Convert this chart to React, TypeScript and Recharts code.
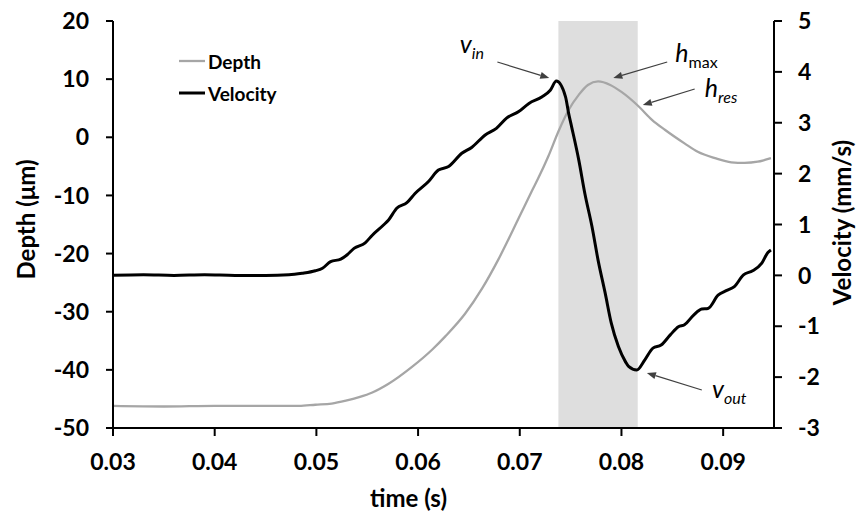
import React from 'react';
import {
  LineChart,
  Line,
  XAxis,
  YAxis,
  ReferenceArea,
  ReferenceLine,
  ReferenceDot,
  Legend,
  Label,
} from 'recharts';

const FONT = 'Lato, "Open Sans", sans-serif';

// Axis ticks
const TIME_TICKS = [0.03, 0.04, 0.05, 0.06, 0.07, 0.08, 0.09];
const DEPTH_TICKS = [-50, -40, -30, -20, -10, 0, 10, 20];
const VELOCITY_TICKS = [-3, -2, -1, 0, 1, 2, 3, 4, 5];

// Depth trace (µm) against time (s)
const depthTime = [
  0.03, 0.035, 0.04, 0.045, 0.0483, 0.0499, 0.0515, 0.0529, 0.0542, 0.0555,
  0.0571, 0.0594, 0.0614, 0.0627, 0.0646, 0.0663, 0.0679, 0.0699, 0.0712, 0.0718,
  0.0728, 0.0738, 0.0748, 0.0758, 0.0767, 0.0777, 0.0789, 0.08, 0.0817, 0.083,
  0.0843, 0.0862, 0.0875, 0.0892, 0.0908, 0.0921, 0.0934, 0.0941, 0.0947,
];
const depthValues = [
  -46.2, -46.3, -46.2, -46.2, -46.2, -46.0, -45.8, -45.3, -44.7, -43.9,
  -42.4, -39.5, -36.5, -34.2, -30.4, -26.0, -21.0, -13.9, -9.2, -7.1,
  -3.3, 1.0, 4.7, 7.3, 9.0, 9.6, 9.0, 7.8, 5.3, 3.0,
  1.25, -1.05, -2.5, -3.6, -4.3, -4.4, -4.2, -3.9, -3.6,
];

// Velocity trace (mm/s) against time (s)
const velocityTime = [
  0.03, 0.033, 0.036, 0.039, 0.042, 0.045, 0.0473, 0.0486, 0.0499, 0.0506,
  0.0514, 0.0524, 0.053, 0.0537, 0.0548, 0.0555, 0.0566, 0.0571, 0.0579, 0.0589,
  0.0597, 0.061, 0.062, 0.063, 0.0643, 0.0653, 0.0666, 0.0677, 0.0687, 0.0699,
  0.0709, 0.0722, 0.073, 0.0736, 0.0745, 0.0748, 0.0751, 0.0758, 0.0764, 0.0771,
  0.0777, 0.0784, 0.079, 0.0797, 0.0804, 0.0807, 0.0815, 0.0823, 0.0831, 0.0839,
  0.0848, 0.0856, 0.0862, 0.0871, 0.0879, 0.0885, 0.0895, 0.0903, 0.0911, 0.092,
  0.0929, 0.0938, 0.0944, 0.0947,
];
const velocityValues = [
  0.0, 0.01, 0.0, 0.01, 0.0, 0.0, 0.01, 0.04, 0.09, 0.14,
  0.27, 0.32, 0.4, 0.53, 0.64, 0.79, 0.99, 1.09, 1.32, 1.43,
  1.61, 1.84, 2.07, 2.14, 2.4, 2.52, 2.76, 2.89, 3.09, 3.22,
  3.38, 3.51, 3.64, 3.82, 3.51, 3.19, 2.92, 2.27, 1.61, 0.96,
  0.3, -0.35, -0.94, -1.4, -1.7, -1.79, -1.86, -1.66, -1.43, -1.37,
  -1.17, -1.01, -0.97, -0.78, -0.66, -0.65, -0.39, -0.3, -0.22, 0.01,
  0.09, 0.24, 0.45, 0.5,
];

// Shaded contact window (s)
const contactWindow = [0.0738, 0.0816];

const depthData = depthTime.map((t, i) => ({ t, depth: depthValues[i] }));
const velocityData = velocityTime.map((t, i) => ({ t, velocity: velocityValues[i] }));

// Callouts, placed in (time, depth) units
const callouts = [
  { main: 'v', sub: 'in', subItalic: true, text: [0.0641, 14.5], tail: [0.0678, 12.95], tip: [0.0729, 10.2] },
  { main: 'h', sub: 'max', subItalic: false, text: [0.0853, 12.95], tail: [0.0845, 12.95], tip: [0.0792, 10.2] },
  { main: 'h', sub: 'res', subItalic: true, text: [0.0882, 6.93], tail: [0.0872, 8.3], tip: [0.0821, 5.55] },
  { main: 'v', sub: 'out', subItalic: true, text: [0.0889, -44.84], tail: [0.0879, -43.47], tip: [0.0825, -40.54] },
];

const ArrowShape = (props: any) => {
  const { x1, y1, x2, y2 } = props;
  const dx = x2 - x1;
  const dy = y2 - y1;
  const len = Math.hypot(dx, dy) || 1;
  const ux = dx / len;
  const uy = dy / len;
  const hl = 9;
  const hw = 3.5;
  const bx = x2 - ux * hl;
  const by = y2 - uy * hl;
  return (
    <g>
      <line x1={x1} y1={y1} x2={bx} y2={by} stroke="#404040" strokeWidth={1.2} />
      <polygon
        points={`${x2},${y2} ${bx - uy * hw},${by + ux * hw} ${bx + uy * hw},${by - ux * hw}`}
        fill="#404040"
      />
    </g>
  );
};

const makeCalloutText = (main: string, sub: string, subItalic: boolean) => (p: any) => (
  <text x={p.cx} y={p.cy} fontFamily={FONT} fontSize={25} fontStyle="italic" fill="#000">
    <tspan>{main}</tspan>
    <tspan fontSize={16} dy={6} fontStyle={subItalic ? 'italic' : 'normal'}>
      {sub}
    </tspan>
  </text>
);

const renderLegend = (props: any) => {
  const items = props.payload || [];
  return (
    <div style={{ fontFamily: FONT, fontWeight: 700, fontSize: 19, color: '#000' }}>
      {items.map((it: any) => (
        <div key={it.value} style={{ display: 'flex', alignItems: 'center', height: 32 }}>
          <svg width={30} height={32}>
            <line
              x1={3}
              y1={16}
              x2={29}
              y2={16}
              stroke={it.color}
              strokeWidth={it.value === 'Velocity' ? 3 : 2.3}
            />
          </svg>
          <span style={{ marginLeft: 2 }}>{it.value}</span>
        </div>
      ))}
    </div>
  );
};

const titleStyle = { fontFamily: FONT, fontWeight: 700, fontSize: 24, fill: '#000' };

const LeftTitle = (props: any) => {
  const vb = props.viewBox || { x: 0, y: 21, width: 113, height: 407 };
  const cx = vb.x + 25;
  const cy = vb.y + vb.height / 2 - 5;
  return (
    <text
      x={cx}
      y={cy}
      transform={`rotate(-90, ${cx}, ${cy})`}
      textAnchor="middle"
      dominantBaseline="central"
      style={titleStyle}
    >
      Depth (μm)
    </text>
  );
};

const RightTitle = (props: any) => {
  const vb = props.viewBox || { x: 774, y: 21, width: 84, height: 407 };
  const cx = vb.x + 67;
  const cy = vb.y + vb.height / 2 - 2;
  return (
    <text
      x={cx}
      y={cy}
      transform={`rotate(-90, ${cx}, ${cy})`}
      textAnchor="middle"
      dominantBaseline="central"
      style={titleStyle}
    >
      Velocity (mm/s)
    </text>
  );
};

const BottomTitle = (props: any) => {
  const vb = props.viewBox || { x: 113, y: 428, width: 661, height: 87 };
  const cx = vb.x + vb.width / 2 - 35;
  const cy = vb.y + 69;
  return (
    <text x={cx} y={cy} textAnchor="middle" dominantBaseline="central" style={titleStyle}>
      time (s)
    </text>
  );
};

const tickStyle = { fill: '#000', fontSize: 23, fontWeight: 700, fontFamily: FONT };
const axisStroke = { stroke: '#000', strokeWidth: 2 };

export default function App() {
  return (
    <div style={{ position: 'absolute', left: 0, top: 0, background: '#fff' }}>
      <LineChart width={858} height={515} margin={{ top: 21, right: 0, bottom: 0, left: 0 }}>
        <ReferenceArea
          x1={contactWindow[0]}
          x2={contactWindow[1]}
          yAxisId="left"
          fill="#dedede"
          fillOpacity={1}
          stroke="none"
          ifOverflow="hidden"
        />
        <XAxis
          dataKey="t"
          type="number"
          domain={[0.03, 0.095]}
          ticks={TIME_TICKS}
          allowDataOverflow
          tickFormatter={(v: number) => v.toFixed(2)}
          height={87}
          tick={tickStyle}
          tickSize={8}
          tickMargin={18}
          axisLine={axisStroke}
          tickLine={axisStroke}
        >
          <Label content={<BottomTitle />} />
        </XAxis>
        <XAxis
          xAxisId="top"
          orientation="top"
          type="number"
          domain={[0.03, 0.095]}
          height={0}
          tick={false}
          tickLine={false}
          axisLine={axisStroke}
        />
        <YAxis
          yAxisId="left"
          orientation="left"
          type="number"
          domain={[-50, 20]}
          ticks={DEPTH_TICKS}
          width={113}
          tick={tickStyle}
          tickSize={7}
          tickMargin={17}
          axisLine={axisStroke}
          tickLine={axisStroke}
          allowDataOverflow
        >
          <Label content={<LeftTitle />} />
        </YAxis>
        <YAxis
          yAxisId="right"
          orientation="right"
          type="number"
          domain={[-3, 5]}
          ticks={VELOCITY_TICKS}
          width={84}
          tick={{ ...tickStyle, textAnchor: 'start' }}
          tickSize={8}
          tickMargin={16}
          axisLine={axisStroke}
          tickLine={axisStroke}
          allowDataOverflow
        >
          <Label content={<RightTitle />} />
        </YAxis>
        <Line
          data={depthData}
          dataKey="depth"
          name="Depth"
          yAxisId="left"
          type="monotone"
          stroke="#a6a6a6"
          strokeWidth={2.3}
          dot={false}
          activeDot={false}
          isAnimationActive={false}
        />
        <Line
          data={velocityData}
          dataKey="velocity"
          name="Velocity"
          yAxisId="right"
          type="monotone"
          stroke="#000"
          strokeWidth={3}
          dot={false}
          activeDot={false}
          isAnimationActive={false}
        />
        {callouts.map((c, i) => (
          <ReferenceLine
            key={`arrow-${i}`}
            yAxisId="left"
            segment={[
              { x: c.tail[0], y: c.tail[1] },
              { x: c.tip[0], y: c.tip[1] },
            ]}
            shape={ArrowShape}
            ifOverflow="visible"
          />
        ))}
        {callouts.map((c, i) => (
          <ReferenceDot
            key={`text-${i}`}
            yAxisId="left"
            x={c.text[0]}
            y={c.text[1]}
            r={0}
            ifOverflow="visible"
            shape={makeCalloutText(c.main, c.sub, c.subItalic)}
          />
        ))}
        <Legend
          layout="vertical"
          align="center"
          verticalAlign="middle"
          content={renderLegend}
          wrapperStyle={{ left: 176, top: 45, width: 'auto' }}
        />
      </LineChart>
    </div>
  );
}
